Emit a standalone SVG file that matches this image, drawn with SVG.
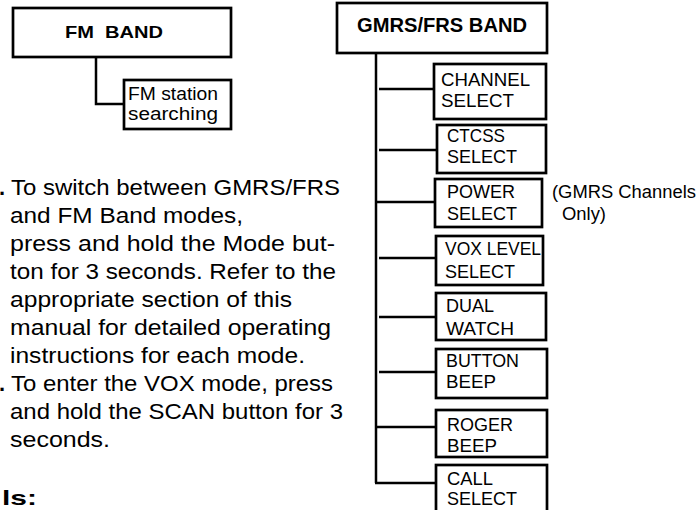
<svg xmlns="http://www.w3.org/2000/svg" width="699" height="510" viewBox="0 0 699 510">
<style>
.box{fill:#fff;stroke:#000;stroke-width:2.7}
.ln{fill:none;stroke:#000;stroke-width:2.5}
.lbl{font-family:"Liberation Sans",Arial,sans-serif;font-size:17.5px;fill:#000}
.hd{font-family:"Liberation Sans",Arial,sans-serif;font-size:16.5px;font-weight:bold;fill:#000}
.body{font-family:"Liberation Sans",Arial,sans-serif;font-size:21.5px;fill:#000}
.bullet{font-family:"Liberation Sans",Arial,sans-serif;font-size:22px;font-weight:bold;fill:#000}
</style>
<rect width="699" height="510" fill="#fff"/>
<g id="connectors">
<polyline class="ln" points="96,57 96,104 124,104"/>
<line class="ln" x1="376" y1="53" x2="376" y2="483"/>
<line class="ln" x1="379" y1="89" x2="434" y2="89"/>
<line class="ln" x1="379" y1="150" x2="437" y2="150"/>
<line class="ln" x1="377" y1="202" x2="435" y2="202"/>
<line class="ln" x1="379" y1="258" x2="436" y2="258"/>
<line class="ln" x1="379" y1="317" x2="436" y2="317"/>
<line class="ln" x1="379" y1="372" x2="436" y2="372"/>
<line class="ln" x1="377" y1="427" x2="436" y2="427"/>
<line class="ln" x1="375" y1="483" x2="436" y2="483"/>
</g>
<g id="fm-band">
<rect class="box" x="13" y="8" width="218" height="49"/>
<text class="hd" x="65" y="38" textLength="98" lengthAdjust="spacingAndGlyphs" xml:space="preserve">FM  BAND</text>
</g>
<g id="fm-station">
<rect class="box" x="124" y="80" width="107" height="49"/>
<text class="lbl" x="128" y="100" textLength="90" lengthAdjust="spacingAndGlyphs">FM station</text>
<text class="lbl" x="128" y="120" textLength="90" lengthAdjust="spacingAndGlyphs">searching</text>
</g>
<g id="gmrs-band">
<rect class="box" x="337" y="3" width="210" height="50"/>
<text class="hd" x="357" y="32" style="font-size:20.5px" textLength="170" lengthAdjust="spacingAndGlyphs">GMRS/FRS BAND</text>
</g>
<g id="channel-select">
<rect class="box" x="434" y="64" width="112" height="55"/>
<text class="lbl" x="441" y="86" textLength="89" lengthAdjust="spacingAndGlyphs">CHANNEL</text>
<text class="lbl" x="441" y="107" textLength="73" lengthAdjust="spacingAndGlyphs">SELECT</text>
</g>
<g id="ctcss-select">
<rect class="box" x="437" y="125" width="109" height="48"/>
<text class="lbl" x="447" y="142" textLength="58" lengthAdjust="spacingAndGlyphs">CTCSS</text>
<text class="lbl" x="447" y="163" textLength="70" lengthAdjust="spacingAndGlyphs">SELECT</text>
</g>
<g id="power-select">
<rect class="box" x="435" y="179" width="107" height="48"/>
<text class="lbl" x="447" y="198" textLength="68" lengthAdjust="spacingAndGlyphs">POWER</text>
<text class="lbl" x="447" y="220" textLength="70" lengthAdjust="spacingAndGlyphs">SELECT</text>
</g>
<g id="power-note">
<text class="lbl" x="552" y="198" textLength="144" lengthAdjust="spacingAndGlyphs">(GMRS Channels</text>
<text class="lbl" x="562" y="220" textLength="44" lengthAdjust="spacingAndGlyphs">Only)</text>
</g>
<g id="vox-level-select">
<rect class="box" x="436" y="236" width="107" height="49"/>
<text class="lbl" x="445" y="255" textLength="96" lengthAdjust="spacingAndGlyphs">VOX LEVEL</text>
<text class="lbl" x="445" y="278" textLength="70" lengthAdjust="spacingAndGlyphs">SELECT</text>
</g>
<g id="dual-watch">
<rect class="box" x="436" y="293" width="110" height="47"/>
<text class="lbl" x="446" y="312" textLength="48" lengthAdjust="spacingAndGlyphs">DUAL</text>
<text class="lbl" x="446" y="335" textLength="68" lengthAdjust="spacingAndGlyphs">WATCH</text>
</g>
<g id="button-beep">
<rect class="box" x="436" y="349" width="111" height="49"/>
<text class="lbl" x="446" y="367" textLength="73" lengthAdjust="spacingAndGlyphs">BUTTON</text>
<text class="lbl" x="446" y="388" textLength="50" lengthAdjust="spacingAndGlyphs">BEEP</text>
</g>
<g id="roger-beep">
<rect class="box" x="436" y="410" width="111" height="47"/>
<text class="lbl" x="447" y="431" textLength="66" lengthAdjust="spacingAndGlyphs">ROGER</text>
<text class="lbl" x="447" y="452" textLength="50" lengthAdjust="spacingAndGlyphs">BEEP</text>
</g>
<g id="call-select">
<rect class="box" x="436" y="465" width="111" height="50"/>
<text class="lbl" x="447" y="485" textLength="46" lengthAdjust="spacingAndGlyphs">CALL</text>
<text class="lbl" x="447" y="505" textLength="70" lengthAdjust="spacingAndGlyphs">SELECT</text>
</g>
<g id="instructions">
<text class="bullet" x="-1" y="195">.</text>
<text class="body" x="11" y="195" textLength="329" lengthAdjust="spacingAndGlyphs">To switch between GMRS/FRS</text>
<text class="body" x="10" y="223" textLength="233" lengthAdjust="spacingAndGlyphs">and FM Band modes,</text>
<text class="body" x="10" y="251" textLength="325" lengthAdjust="spacingAndGlyphs">press and hold the Mode but-</text>
<text class="body" x="10" y="279" textLength="326" lengthAdjust="spacingAndGlyphs">ton for 3 seconds. Refer to the</text>
<text class="body" x="10" y="307" textLength="282" lengthAdjust="spacingAndGlyphs">appropriate section of this</text>
<text class="body" x="10" y="335" textLength="321" lengthAdjust="spacingAndGlyphs">manual for detailed operating</text>
<text class="body" x="10" y="363" textLength="295" lengthAdjust="spacingAndGlyphs">instructions for each mode.</text>
<text class="bullet" x="-1" y="391">.</text>
<text class="body" x="11" y="391" textLength="322" lengthAdjust="spacingAndGlyphs">To enter the VOX mode, press</text>
<text class="body" x="10" y="419" textLength="333" lengthAdjust="spacingAndGlyphs">and hold the SCAN button for 3</text>
<text class="body" x="10" y="447" textLength="100" lengthAdjust="spacingAndGlyphs">seconds.</text>
<text class="bullet" x="2" y="505" style="font-size:21px" textLength="35" lengthAdjust="spacingAndGlyphs">ls:</text>
</g>
</svg>
